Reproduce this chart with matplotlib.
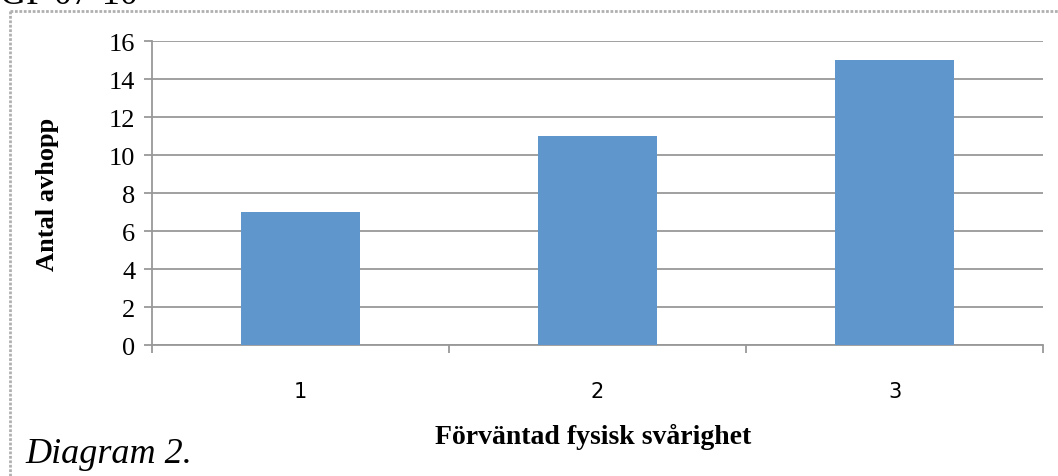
import matplotlib.pyplot as plt
from matplotlib.lines import Line2D

categories = ['1', '2', '3']
values = [7, 11, 15]
y_ticks = [0, 2, 4, 6, 8, 10, 12, 14, 16]

fig = plt.figure(figsize=(10.58, 4.77), dpi=100)
ax = fig.add_axes([0.1437, 0.2746, 0.8422, 0.6373])

x = [1, 2, 3]
ax.bar(x, values, width=0.4, color='#5f96cc', zorder=3)

ax.set_xlim(0.5, 3.5)
ax.set_ylim(0, 16)
ax.set_yticks(y_ticks)
ax.set_yticklabels([str(t) for t in y_ticks], family='Liberation Serif', fontsize=19)
ax.set_xticks(x)
ax.set_xticklabels(categories, family='DejaVu Sans', fontsize=15)
ax.set_xticks([0.5, 1.5, 2.5, 3.5], minor=True)
ax.tick_params(axis='x', which='major', length=0, pad=26)
ax.tick_params(axis='x', which='minor', length=6, width=1.3, color='#999999', direction='out')
ax.tick_params(axis='y', length=6, width=1.3, color='#999999', direction='out', pad=6)

ax.yaxis.grid(True, color='#999999', linewidth=1.3, zorder=0)
for s in ['top', 'right']:
    ax.spines[s].set_visible(False)
for s in ['left', 'bottom']:
    ax.spines[s].set_color('#999999')
    ax.spines[s].set_linewidth(1.3)

ax.set_ylabel('Antal avhopp', family='Liberation Serif', fontweight='bold', fontsize=19, labelpad=36)
fig.text(0.561, 0.083, 'Förväntad fysisk svårighet', family='Liberation Serif',
         fontweight='bold', fontsize=20, ha='center', va='center')

fig.text(0.024, 0.03, 'Diagram 2.', family='Liberation Serif', style='italic',
         fontsize=26, ha='left', va='baseline')
fig.text(0.0, 0.992, 'GP 07-10', family='Liberation Serif', fontsize=26,
         ha='left', va='baseline')

# dotted frame around the chart object
fig.add_artist(Line2D([0.0095, 1.0], [0.975, 0.975], transform=fig.transFigure,
                      color='#b0b0b0', linestyle=(0, (1, 0.6)), linewidth=2))
fig.add_artist(Line2D([0.0095, 0.0095], [0.0, 0.975], transform=fig.transFigure,
                      color='#b0b0b0', linestyle=(0, (1, 0.6)), linewidth=2))

fig.savefig('out.png', dpi=100)
